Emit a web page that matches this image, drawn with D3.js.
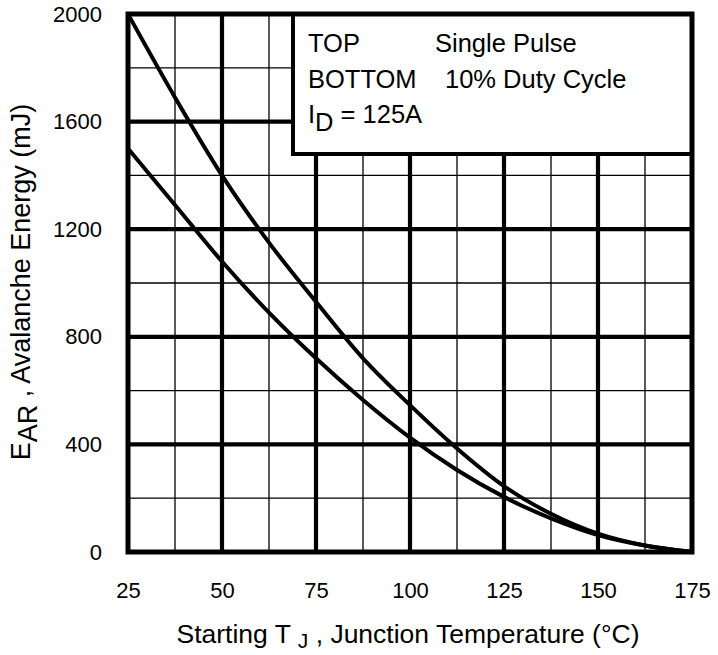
<!DOCTYPE html>
<html>
<head>
<meta charset="utf-8">
<script src="https://cdn.jsdelivr.net/npm/d3@7"></script>
<style>
  body { margin: 0; background: #fff; }
  text { font-family: "Liberation Sans", Arial, sans-serif; fill: #000; }
</style>
</head>
<body>
<div id="chart"></div>
<script>
const width = 718;
const height = 655;

// values
const temps = [25, 37.5, 50, 62.5, 75, 87.5, 100, 112.5, 125, 137.5, 150, 162.5, 175];
const singlePulse = [2000, 1690, 1400, 1150, 930, 720, 546, 385, 245, 142, 68, 24, 0];
const dutyCycle = [1500, 1290, 1080, 890, 720, 565, 425, 305, 205, 125, 63, 24, 0];
const xTicks = [25, 50, 75, 100, 125, 150, 175];
const yTicks = [0, 400, 800, 1200, 1600, 2000];
const legendLines = [["TOP", "Single Pulse"], ["BOTTOM", "10% Duty Cycle"]];

const svg = d3.select("#chart")
  .append("svg")
  .attr("width", width)
  .attr("height", height);

const x = d3.scaleLinear().domain([25, 175]).range([128, 692]);
const y = d3.scaleLinear().domain([0, 2000]).range([552, 14]);

// grid
const grid = svg.append("g").attr("stroke", "#000");
const xMinor = d3.range(37.5, 175, 25);
const yMinor = d3.range(200, 2000, 400);

grid.selectAll(".vminor").data(xMinor).join("line")
  .attr("x1", d => x(d)).attr("x2", d => x(d))
  .attr("y1", y(0)).attr("y2", y(2000))
  .attr("stroke-width", 1.3);
grid.selectAll(".hminor").data(yMinor).join("line")
  .attr("y1", d => y(d)).attr("y2", d => y(d))
  .attr("x1", x(25)).attr("x2", x(175))
  .attr("stroke-width", 1.3);
grid.selectAll(".vmajor").data(xTicks.slice(1, -1)).join("line")
  .attr("x1", d => x(d)).attr("x2", d => x(d))
  .attr("y1", y(0)).attr("y2", y(2000))
  .attr("stroke-width", 4.2);
grid.selectAll(".hmajor").data(yTicks.slice(1, -1)).join("line")
  .attr("y1", d => y(d)).attr("y2", d => y(d))
  .attr("x1", x(25)).attr("x2", x(175))
  .attr("stroke-width", 4.2);

// curves
const line = d3.line()
  .x((d, i) => x(temps[i]))
  .y(d => y(d))
  .curve(d3.curveMonotoneX);

svg.append("g")
  .attr("fill", "none")
  .attr("stroke", "#000")
  .attr("stroke-width", 4)
  .selectAll("path")
  .data([singlePulse, dutyCycle])
  .join("path")
  .attr("d", line);

// legend box
const lx = 293, ly = y(2000), lw = x(175) - 293, lh = 154 - y(2000);
svg.append("rect")
  .attr("x", lx).attr("y", ly)
  .attr("width", lw).attr("height", lh)
  .attr("fill", "#fff")
  .attr("stroke", "#000")
  .attr("stroke-width", 4);

const legend = svg.append("g").style("font-size", "25.5px");
legendLines.forEach((row, i) => {
  legend.append("text").attr("x", 308).attr("y", 52 + i * 35.5).text(row[0]);
  legend.append("text").attr("x", i === 0 ? 435 : 445).attr("y", 52 + i * 35.5).text(row[1]);
});
const idText = legend.append("text").attr("x", 308).attr("y", 122.5);
idText.append("tspan").text("I");
idText.append("tspan").attr("dy", 8).text("D");
idText.append("tspan").attr("dy", -8).text(" = 125A");

// frame
svg.append("rect")
  .attr("x", x(25)).attr("y", y(2000))
  .attr("width", x(175) - x(25)).attr("height", y(0) - y(2000))
  .attr("fill", "none")
  .attr("stroke", "#000")
  .attr("stroke-width", 5);

// axes labels
const yAxis = svg.append("g")
  .attr("transform", "translate(102,0)")
  .call(d3.axisLeft(y).tickValues(yTicks).tickSize(0).tickPadding(0).tickFormat(d3.format("d")));
yAxis.select(".domain").remove();
yAxis.selectAll("text").style("font-size", "22px").style("font-family", "Liberation Sans, Arial, sans-serif").attr("fill", "#000");

const xAxis = svg.append("g")
  .attr("transform", "translate(0,582)")
  .call(d3.axisBottom(x).tickValues(xTicks).tickSize(0).tickPadding(0).tickFormat(d3.format("d")));
xAxis.select(".domain").remove();
xAxis.selectAll("text").style("font-size", "22px").style("font-family", "Liberation Sans, Arial, sans-serif").attr("fill", "#000");

// axis titles
const xTitle = svg.append("text")
  .attr("x", 408).attr("y", 643)
  .attr("text-anchor", "middle")
  .style("font-size", "26.5px");
xTitle.append("tspan").text("Starting T ");
xTitle.append("tspan").attr("dy", 5).style("font-size", "21px").text("J");
xTitle.append("tspan").attr("dy", -5).text(" , Junction Temperature (°C)");

const yTitle = svg.append("text")
  .attr("transform", "translate(30,282) rotate(-90)")
  .attr("text-anchor", "middle")
  .style("font-size", "27px");
yTitle.append("tspan").text("E");
yTitle.append("tspan").attr("dy", 7).text("AR");
yTitle.append("tspan").attr("dy", -7).text(" , Avalanche Energy (mJ)");
</script>
</body>
</html>
